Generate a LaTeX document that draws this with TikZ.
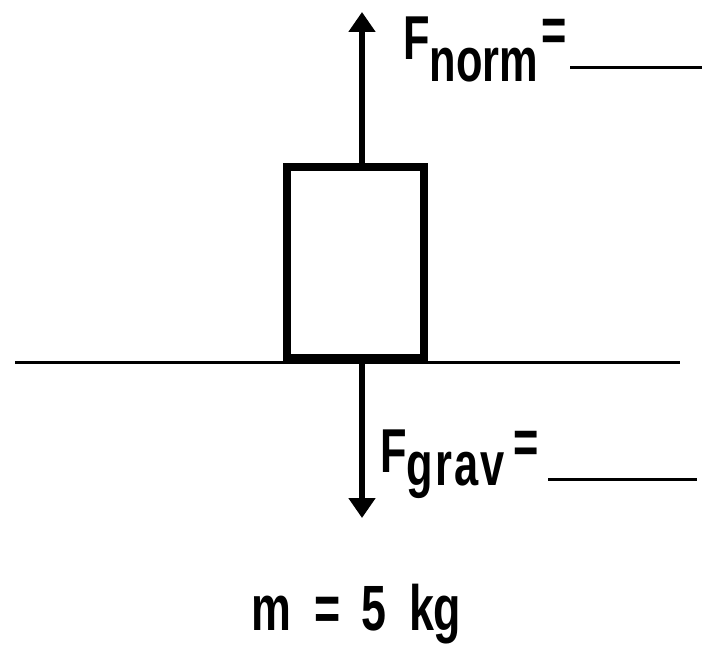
\documentclass[tikz,border=0pt]{standalone}
\usepackage{fontspec}
\setmainfont{Liberation Sans}[FakeStretch=0.7]
\usetikzlibrary{arrows.meta}
\tikzset{
  force/.style={line width=6pt, ->},
  txt/.style={inner sep=0pt, anchor=base west, font=\bfseries\fontsize{62pt}{62pt}\selectfont},
  blank/.style={line width=3pt}
}
\begin{document}
\begin{tikzpicture}[x=1pt, y=-1pt, >={Triangle[length=20pt,width=26pt]}]
\useasboundingbox (0,0) rectangle (704,647);
% block on the floor
\node[draw, line width=8pt, minimum width=137pt, minimum height=191pt, inner sep=0pt] (block) at (355.5,262.5) {};
\coordinate (floorl) at (15,362);
\coordinate (floorr) at (680,362);
\draw[line width=3pt] (floorl) -- (floorr);
% forces
\coordinate (nrm) at (362,12);
\coordinate (grv) at (362,518);
\draw[force] (block.north -| nrm) -- (nrm);
\draw[force] (block.south -| grv) -- (grv);
% labels
\node[txt] (fnorm) at (403,60) {F\raisebox{-22pt}{norm}\hspace{3pt}\raisebox{8pt}{=}};
\coordinate (nb1) at (570,68);
\coordinate (nb2) at (702,68);
\draw[blank] (nb1) -- (nb2);
\node[txt] (fgrav) at (380,472) {F\raisebox{-13pt}{g\hspace{2pt}r\hspace{2pt}a\hspace{2pt}v}\hspace{9pt}\raisebox{9pt}{=}};
\coordinate (gb1) at (548,479);
\coordinate (gb2) at (697,479);
\draw[blank] (gb1) -- (gb2);
\node[txt, font=\bfseries\fontsize{64pt}{64pt}\selectfont] (mass) at (251,630) {m\hspace{23pt}=\hspace{21pt}5\hspace{23pt}kg};
\end{tikzpicture}
\end{document}
